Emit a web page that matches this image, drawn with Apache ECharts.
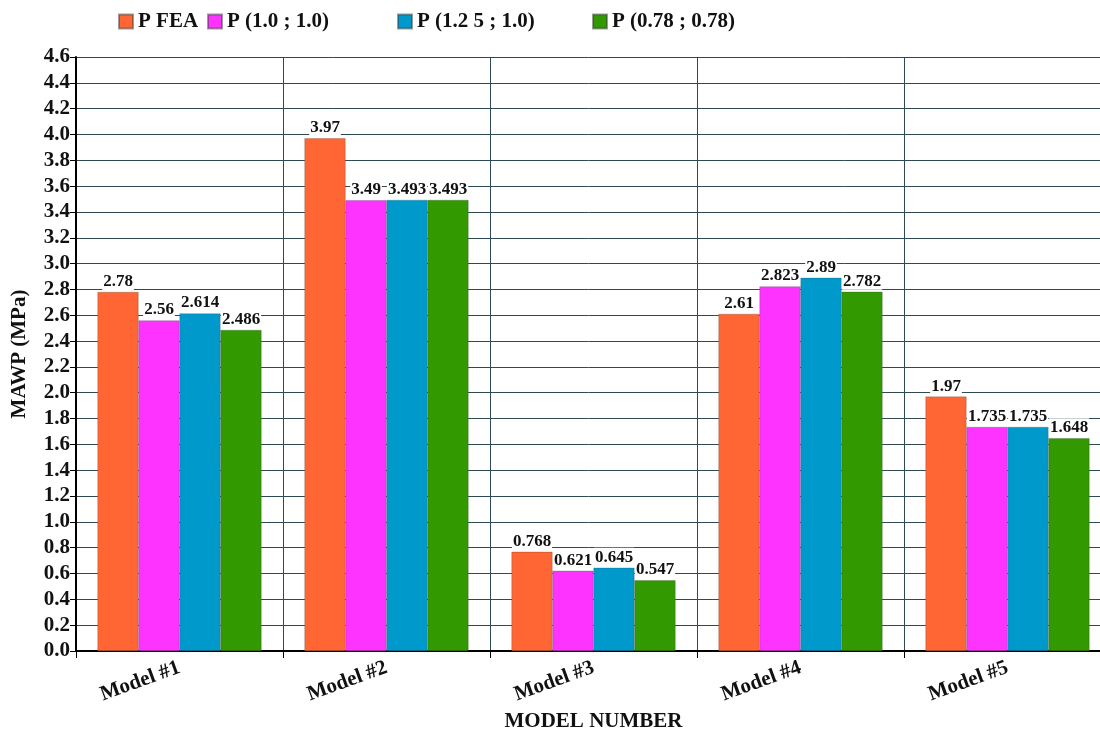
<!DOCTYPE html>
<html>
<head>
<meta charset="utf-8">
<script src="https://cdn.jsdelivr.net/npm/echarts@6/dist/echarts.min.js"></script>
<style>
  html, body { margin: 0; padding: 0; background: #ffffff; }
  #chart { width: 1100px; height: 733px; }
</style>
</head>
<body>
<div id="chart"></div>
<script>
// Model names along the x axis
const categories = ['Model #1', 'Model #2', 'Model #3', 'Model #4', 'Model #5'];

// Series names shown in the legend
const seriesNames = ['P FEA', 'P (1.0 ; 1.0)', 'P (1.2 5 ; 1.0)', 'P (0.78 ; 0.78)'];

// MAWP values (MPa) per model
const pFEA   = [2.78, 3.97, 0.768, 2.61, 1.97];
const p10_10 = [2.56, 3.49, 0.621, 2.823, 1.735];
const p125_10 = [2.614, 3.493, 0.645, 2.89, 1.735];
const p078_078 = [2.486, 3.493, 0.547, 2.782, 1.648];

const seriesData = [pFEA, p10_10, p125_10, p078_078];
const colors = ['#ff6633', '#ff33ff', '#0099cc', '#339900'];

// Left edge of each legend entry
const legendLefts = [113, 202, 392, 587];

const serif = '"Liberation Serif", "DejaVu Serif", serif';

const chart = echarts.init(document.getElementById('chart'));

chart.setOption({
  animation: false,
  backgroundColor: '#ffffff',
  legend: seriesNames.map((name, i) => ({
    top: 6,
    left: legendLefts[i],
    itemWidth: 14,
    itemHeight: 14,
    itemGap: 0,
    icon: 'rect',
    textStyle: { fontFamily: serif, fontWeight: 'bold', fontSize: 21, color: '#111' },
    data: [name]
  })),
  grid: {
    left: 76,
    top: 57,
    width: 1035,
    height: 594,
    containLabel: false,
    outerBoundsMode: 'none'
  },
  xAxis: {
    type: 'category',
    data: categories,
    boundaryGap: true,
    name: 'MODEL NUMBER',
    nameLocation: 'middle',
    nameGap: 58,
    nameTextStyle: { fontFamily: serif, fontWeight: 'bold', fontSize: 21, color: '#111' },
    axisLine: { lineStyle: { color: '#000', width: 2 } },
    axisTick: { show: true, length: 7, lineStyle: { color: '#000' } },
    splitLine: { show: true, lineStyle: { color: '#2e4a55', width: 1 } },
    axisLabel: {
      rotate: 20,
      margin: 16,
      fontFamily: serif,
      fontWeight: 'bold',
      fontSize: 21,
      color: '#111'
    }
  },
  yAxis: {
    type: 'value',
    min: 0,
    max: 4.6,
    interval: 0.2,
    name: 'MAWP (MPa)',
    nameLocation: 'middle',
    nameGap: 46,
    nameTextStyle: { fontFamily: serif, fontWeight: 'bold', fontSize: 21, color: '#111' },
    axisLine: { show: true, lineStyle: { color: '#000', width: 2 } },
    axisTick: { show: true, length: 6, lineStyle: { color: '#000' } },
    splitLine: { show: true, lineStyle: { color: '#2e4a55', width: 1 } },
    axisLabel: {
      margin: 6,
      fontFamily: serif,
      fontWeight: 'bold',
      fontSize: 21,
      color: '#111',
      formatter: v => v.toFixed(1)
    }
  },
  series: seriesNames.map((name, i) => ({
    name: name,
    type: 'bar',
    data: seriesData[i],
    barWidth: 41,
    barGap: '0%',
    itemStyle: { color: colors[i], borderColor: 'rgba(60,60,60,0.5)', borderWidth: 0.5 },
    label: {
      show: true,
      position: 'top',
      distance: 2,
      fontFamily: serif,
      fontWeight: 'bold',
      fontSize: 17,
      color: '#111',
      backgroundColor: '#ffffff',
      padding: [1, 1, 0, 1]
    }
  }))
});
</script>
</body>
</html>
